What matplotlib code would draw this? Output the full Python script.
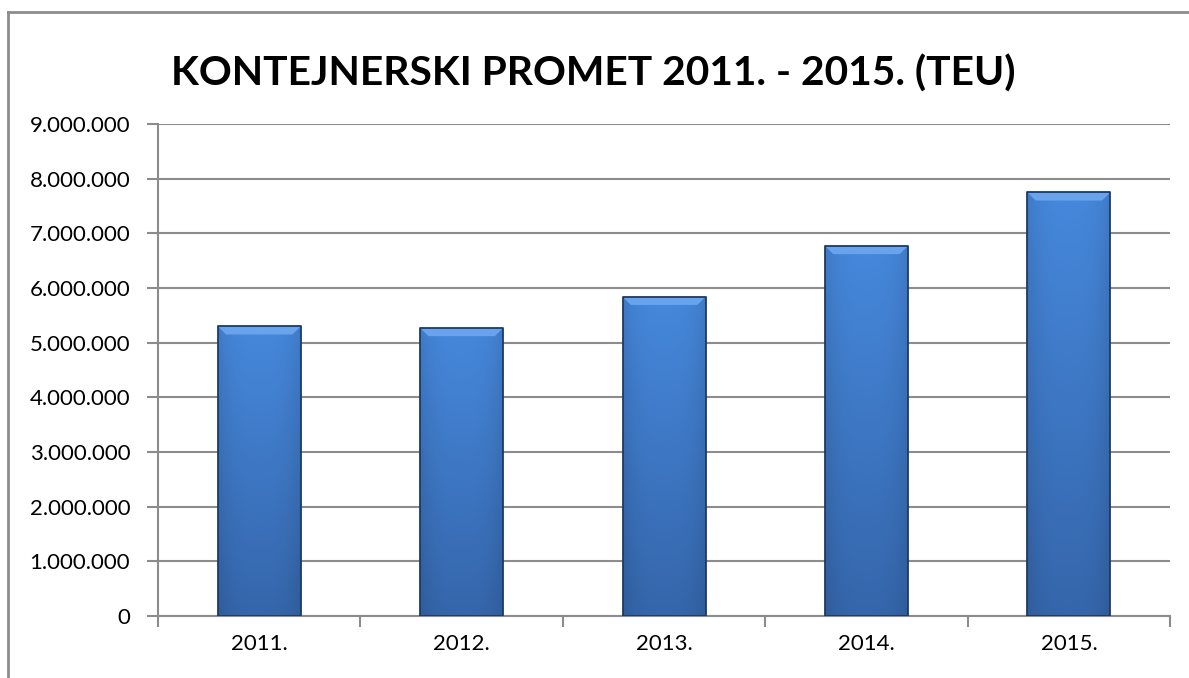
import numpy as np
import matplotlib
matplotlib.use('Agg')
import matplotlib.pyplot as plt
from matplotlib.colors import to_rgb
from matplotlib.lines import Line2D
from matplotlib.patches import Polygon
from matplotlib.ticker import FuncFormatter, FixedLocator

# podaci
godine = ["2011.", "2012.", "2013.", "2014.", "2015."]
teu = [5300000, 5270000, 5840000, 6770000, 7750000]
y_ticks = [0, 1000000, 2000000, 3000000, 4000000, 5000000, 6000000, 7000000, 8000000, 9000000]

plt.rcParams['font.family'] = ['Lato', 'DejaVu Sans']

fig = plt.figure(figsize=(11.89, 6.78), dpi=100)
ax = fig.add_axes([0.1329, 0.0914, 0.8512, 0.7257])

x = np.arange(len(godine))
bars = ax.bar(x, teu, width=0.41, color='#3f7ccc', edgecolor='none',
              linewidth=0, zorder=3)

# gradijent na stupcima (imitacija Excel efekta)
gore = np.array(to_rgb('#4688dc'))
dolje = np.array(to_rgb('#3566ab'))
t = np.linspace(0, 1, 100).reshape(-1, 1, 1)          # odozdo prema gore
s = np.linspace(-1, 1, 60).reshape(1, -1, 1)
boja = dolje + (gore - dolje) * t
boja = boja * (1 - 0.10 * np.abs(s) ** 3)
boja = np.clip(boja, 0, 1)

for b in bars:
    x0, w, h = b.get_x(), b.get_width(), b.get_height()
    im = ax.imshow(boja, extent=[x0, x0 + w, 0, h], aspect='auto',
                   zorder=3.5, origin='lower', interpolation='bilinear')
    im.set_clip_path(b)
    # svijetli rub na vrhu
    dx = w * 0.10
    dy = 150000
    ax.add_patch(Polygon([[x0, h], [x0 + w, h], [x0 + w - dx, h - dy], [x0 + dx, h - dy]],
                         closed=True, facecolor='#68a3ec', edgecolor='none', zorder=3.6))
    ax.plot([x0, x0 + w, x0 + w, x0, x0], [0, 0, h, h, 0], color='#1e3a64',
            linewidth=1.3, zorder=3.7)

ax.set_xlim(-0.5, len(godine) - 0.5)
ax.set_ylim(0, 9000000)
ax.yaxis.set_major_locator(FixedLocator(y_ticks))
ax.yaxis.set_major_formatter(FuncFormatter(lambda v, p: f"{int(v):,}".replace(",", ".")))
ax.grid(axis='y', color='#8c8c8c', linewidth=1.5, zorder=0)

ax.set_xticks(x)
ax.set_xticklabels(godine)
ax.set_xticks(np.arange(len(godine) + 1) - 0.5, minor=True)
ax.tick_params(axis='x', which='major', length=0, pad=13, labelsize=16)
ax.tick_params(axis='x', which='minor', length=8, width=1.5, color='#8c8c8c')
ax.tick_params(axis='y', length=8, width=1.5, color='#8c8c8c', pad=12, labelsize=16)

for sp in ['top', 'right']:
    ax.spines[sp].set_visible(False)
for sp in ['left', 'bottom']:
    ax.spines[sp].set_color('#8c8c8c')
    ax.spines[sp].set_linewidth(1.5)

fig.text(0.499, 0.892, "KONTEJNERSKI PROMET 2011. - 2015. (TEU)", ha='center', va='center',
         fontsize=29.3, fontweight='bold')

# okvir grafikona
fig.add_artist(Line2D([8 / 1189, 8 / 1189], [0, 1 - 12 / 678], color='#8c8c8c', linewidth=2))
fig.add_artist(Line2D([8 / 1189, 1], [1 - 12 / 678, 1 - 12 / 678], color='#8c8c8c', linewidth=2))

fig.savefig('out.png', dpi=100)
